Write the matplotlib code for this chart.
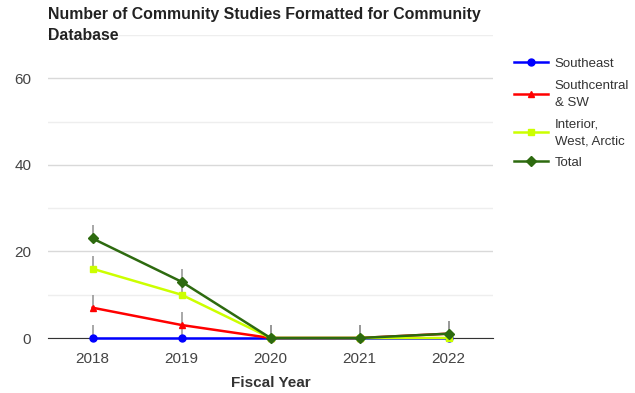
import matplotlib
matplotlib.use("Agg")
import matplotlib.pyplot as plt
from matplotlib.ticker import MultipleLocator

plt.rcParams['font.family'] = ['Liberation Sans', 'DejaVu Sans']

years = ['2018', '2019', '2020', '2021', '2022']
southeast = [0, 0, 0, 0, 0]
southcentral = [7, 3, 0, 0, 1]
interior = [16, 10, 0, 0, 0]
total = [23, 13, 0, 0, 1]
err_up = [3, 3, 3, 3, 3]

series = [
    ('Southeast', southeast, '#0000ff', 'o'),
    ('Southcentral\n& SW', southcentral, '#ff0000', '^'),
    ('Interior,\nWest, Arctic', interior, '#ccff00', 's'),
    ('Total', total, '#2d6a0f', 'D'),
]

fig = plt.figure(figsize=(6.35, 3.93), dpi=100)
ax = fig.add_axes([48/635, 1-338/393, 445/635, 303/393])

x = list(range(len(years)))
for name, vals, col, mk in series:
    ax.errorbar(x, vals, yerr=[[0]*len(vals), err_up], fmt='none',
                ecolor='#999999', elinewidth=1.2, capsize=0, zorder=2)
for i, (name, vals, col, mk) in enumerate(series):
    ax.plot(x, vals, color=col, marker=mk, lw=1.8,
            markersize=5 if mk != 'D' else 4.8, label=name, zorder=3 + i,
            clip_on=False)

ax.set_xlim(-0.5, 4.5)
ax.set_ylim(0, 70)
ax.set_xticks(x)
ax.set_xticklabels(years)
ax.set_yticks([0, 20, 40, 60])
ax.yaxis.set_minor_locator(MultipleLocator(10))
ax.grid(axis='y', which='major', color='#d9d9d9', lw=1)
ax.grid(axis='y', which='minor', color='#eeeeee', lw=1)
ax.set_axisbelow(True)
for s in ['top', 'right', 'left']:
    ax.spines[s].set_visible(False)
ax.spines['bottom'].set_color('#333333')
ax.spines['bottom'].set_zorder(1)
ax.tick_params(axis='both', which='both', length=0)
ax.tick_params(axis='both', labelsize=11, colors='#444444', pad=10)
ax.tick_params(axis='y', pad=12)
ax.set_xlabel('Fiscal Year', fontsize=11, fontweight='bold', color='#333333', labelpad=7)

fig.text(48/635, 1-7/393, 'Number of Community Studies Formatted for Community\nDatabase',
         ha='left', va='top', fontsize=11.4, fontweight='bold', color='#222222',
         linespacing=1.5)

leg = ax.legend(loc='upper left', bbox_to_anchor=(502/635, 1-46/393),
                bbox_transform=fig.transFigure, frameon=False, fontsize=9.5,
                handlelength=2.6, labelspacing=0.72, handletextpad=0.5)
for t in leg.get_texts():
    t.set_color('#333333')
    t.set_linespacing(1.55)

fig.savefig('out.png', dpi=100)
